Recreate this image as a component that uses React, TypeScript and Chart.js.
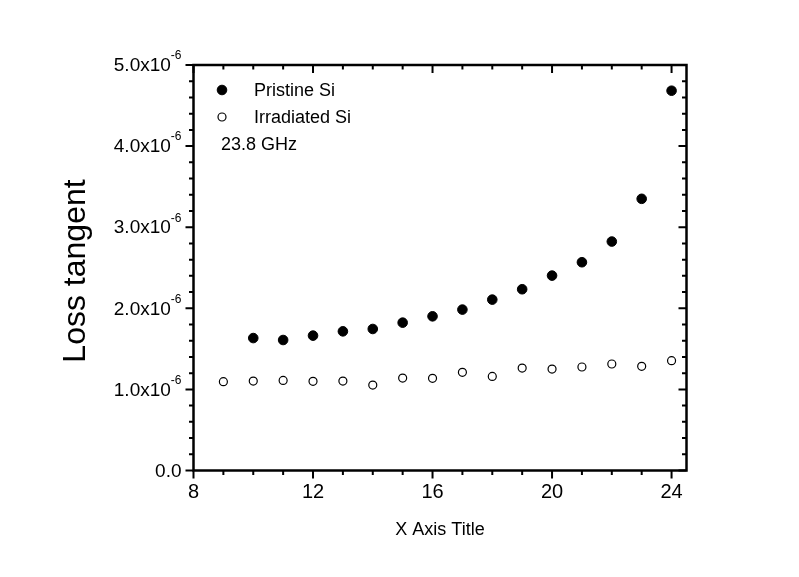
import { useEffect, useRef } from "react";
import { Chart, registerables } from "chart.js";

Chart.register(...registerables);

const pristineX = [10, 11, 12, 13, 14, 15, 16, 17, 18, 19, 20, 21, 22, 23, 24];
const pristineValues = [1.633, 1.609, 1.663, 1.716, 1.745, 1.823, 1.901, 1.984, 2.107, 2.235, 2.403, 2.568, 2.823, 3.35, 4.683];
const irradiatedX = [9, 10, 11, 12, 13, 14, 15, 16, 17, 18, 19, 20, 21, 22, 23, 24];
const irradiatedValues = [1.095, 1.103, 1.111, 1.099, 1.103, 1.053, 1.14, 1.136, 1.21, 1.16, 1.263, 1.251, 1.276, 1.313, 1.284, 1.354];
const xTickValues = [8, 12, 16, 20, 24];
const yTickValues = [0, 1, 2, 3, 4, 5];
const yTickLabels = ["0.0", "1.0x10", "2.0x10", "3.0x10", "4.0x10", "5.0x10"];
const yTickExponents = ["", "-6", "-6", "-6", "-6", "-6"];
const seriesLabels = ["Pristine Si", "Irradiated Si"];
const annotation = "23.8 GHz";
const xTitle = "X Axis Title";
const yTitle = "Loss tangent";
const scaleFactor = 1e-6;

const FONT = "'Liberation Sans', Arial, sans-serif";

const framePlugin = {
  id: "frame",
  afterDraw(chart: any) {
    const { ctx, chartArea } = chart;
    const xs = chart.scales.x;
    const ys = chart.scales.y;
    const { left, right, top, bottom } = chartArea;
    ctx.save();
    ctx.strokeStyle = "#000";
    ctx.fillStyle = "#000";
    ctx.lineWidth = 2.5;
    ctx.strokeRect(left, top, right - left, bottom - top);
    ctx.lineWidth = 2;
    // x ticks
    for (let v = xs.min; v <= xs.max + 1e-9; v += 1) {
      const major = xTickValues.includes(v);
      const L = major ? 8 : 4.5;
      const px = xs.getPixelForValue(v);
      ctx.beginPath();
      ctx.moveTo(px, bottom);
      ctx.lineTo(px, bottom + L);
      ctx.moveTo(px, top);
      ctx.lineTo(px, top + L);
      ctx.stroke();
    }
    // y ticks
    const ymaxUnits = ys.max / scaleFactor;
    for (let i = 0; i <= Math.round(ymaxUnits / 0.2); i++) {
      const v = i * 0.2;
      const major = i % 5 === 0;
      const L = major ? 8 : 4.5;
      const py = ys.getPixelForValue(v * scaleFactor);
      ctx.beginPath();
      ctx.moveTo(left, py);
      ctx.lineTo(left - L, py);
      ctx.moveTo(right, py);
      ctx.lineTo(right - L, py);
      ctx.stroke();
    }
    // x labels
    ctx.font = `20px ${FONT}`;
    ctx.textAlign = "center";
    ctx.textBaseline = "top";
    xTickValues.forEach((v) => {
      ctx.fillText(String(v), xs.getPixelForValue(v), bottom + 12);
    });
    // y labels
    ctx.textBaseline = "middle";
    yTickValues.forEach((v, i) => {
      const py = ys.getPixelForValue(v * scaleFactor);
      const rightEdge = left - 12;
      ctx.font = `12px ${FONT}`;
      const ew = yTickExponents[i] ? ctx.measureText(yTickExponents[i]).width : 0;
      ctx.textAlign = "right";
      if (yTickExponents[i]) ctx.fillText(yTickExponents[i], rightEdge, py - 9);
      ctx.font = `19px ${FONT}`;
      ctx.fillText(yTickLabels[i], rightEdge - ew, py + 1);
    });
    // titles
    ctx.font = `18px ${FONT}`;
    ctx.textAlign = "center";
    ctx.fillText(xTitle, (left + right) / 2, 530);
    ctx.save();
    ctx.translate(76, 271);
    ctx.rotate(-Math.PI / 2);
    ctx.font = `32px ${FONT}`;
    ctx.fillText(yTitle, 0, 0);
    ctx.restore();
    // legend
    const lx = 222;
    const rows = [90, 117];
    chart.data.datasets.forEach((ds: any, i: number) => {
      ctx.beginPath();
      ctx.arc(lx, rows[i], ds.pointRadius, 0, Math.PI * 2);
      ctx.fillStyle = ds.pointBackgroundColor;
      ctx.fill();
      ctx.lineWidth = ds.pointBorderWidth;
      ctx.strokeStyle = ds.pointBorderColor;
      ctx.stroke();
      ctx.fillStyle = "#000";
      ctx.font = `18px ${FONT}`;
      ctx.textAlign = "left";
      ctx.fillText(seriesLabels[i], 254, rows[i] + 1);
    });
    ctx.fillText(annotation, 221, 145);
    ctx.restore();
  },
};

export default function App() {
  const ref = useRef<HTMLCanvasElement | null>(null);
  useEffect(() => {
    if (!ref.current) return;
    const chart = new Chart(ref.current, {
      type: "scatter",
      data: {
        datasets: [
          {
            label: seriesLabels[0],
            data: pristineX.map((x, i) => ({ x, y: pristineValues[i] * scaleFactor })),
            pointRadius: 4.8,
            pointBackgroundColor: "#000",
            pointBorderColor: "#000",
            pointBorderWidth: 1,
          },
          {
            label: seriesLabels[1],
            data: irradiatedX.map((x, i) => ({ x, y: irradiatedValues[i] * scaleFactor })),
            pointRadius: 4,
            pointBackgroundColor: "#fff",
            pointBorderColor: "#000",
            pointBorderWidth: 1.2,
          },
        ],
      },
      options: {
        animation: false,
        responsive: false,
        devicePixelRatio: 1,
        layout: { padding: { left: 0, top: 65, right: 799 - 686.5, bottom: 0 } },
        plugins: { legend: { display: false }, tooltip: { enabled: false } },
        scales: {
          x: {
            type: "linear",
            min: 8,
            max: 24.5,
            grid: { display: false },
            border: { display: false },
            ticks: { display: false },
            afterFit: (s: any) => {
              s.height = 577 - 470.5;
            },
          },
          y: {
            type: "linear",
            min: 0,
            max: 5 * scaleFactor,
            grid: { display: false },
            border: { display: false },
            ticks: { display: false },
            afterFit: (s: any) => {
              s.width = 193.5;
            },
          },
        },
      },
      plugins: [framePlugin],
    });
    return () => chart.destroy();
  }, []);
  return (
    <div style={{ position: "fixed", left: 0, top: 0, width: 799, height: 577, background: "#fff" }}>
      <canvas ref={ref} width={799} height={577} style={{ width: 799, height: 577 }} />
    </div>
  );
}
